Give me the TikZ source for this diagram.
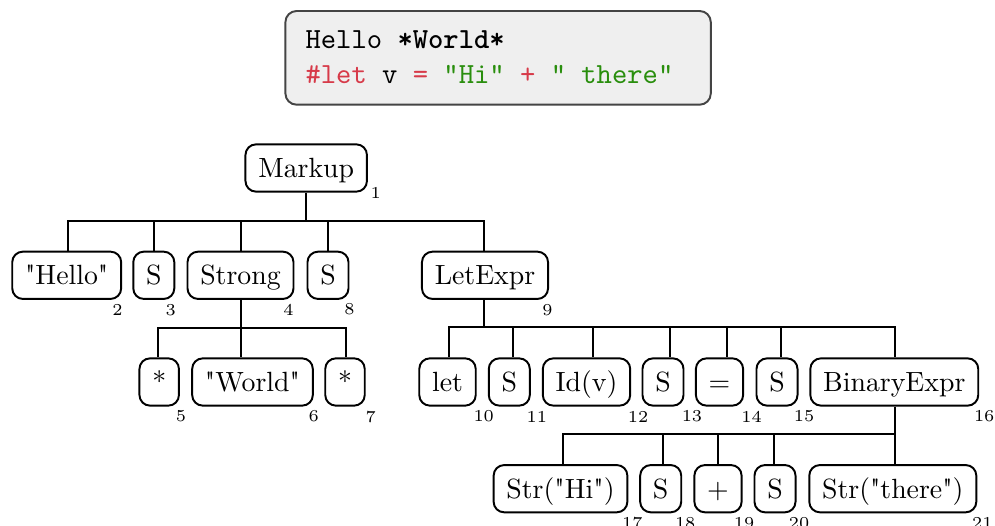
\documentclass[tikz,border=0pt]{standalone}
\usepackage{fontspec}
\usetikzlibrary{calc}
% plain Latin Modern without TeX ligature mapping, so that " stays straight
\newfontfamily\plainroman{Latin Modern Roman}
\definecolor{kwred}{HTML}{D73A49}
\definecolor{strgreen}{HTML}{298E0D}
\definecolor{codefill}{HTML}{EFEFEF}
\definecolor{codeedge}{HTML}{444444}
\begin{document}
\begin{tikzpicture}[x=0.3597pt, y=-0.3597pt,
  box/.style={draw, line width=0.7pt, rounded corners=3.8pt, inner xsep=4.6pt,
    inner ysep=0pt, minimum height=17pt, text height=6.83pt, text depth=0pt,
    font=\plainroman},
  num/.style={inner sep=0pt, font=\fontsize{6}{7}\selectfont},
  edge/.style={line width=0.72pt},
  codebox/.style={draw=codeedge, fill=codefill, line width=0.7pt, rounded corners=4pt,
    minimum width=153pt, minimum height=33.7pt, inner sep=0pt},
  codeline/.style={anchor=base west, inner sep=0pt,
    font=\ttfamily\fontsize{10.5}{12}\selectfont}]

\useasboundingbox (0,0) rectangle (995,526);

% source snippet
\node[codebox] (code) at (498.1,57.85) {};
\node[codeline] (src1) at (305,49) {Hello \textbf{*World*}};
\node[codeline] (src2) at (305,84) {\textcolor{kwred}{\#let} v \textcolor{kwred}{=} \textcolor{strgreen}{"Hi"} \textcolor{kwred}{+} \textcolor{strgreen}{" there"}};

% syntax tree nodes
\node[box] (markup) at (306.2,168) {Markup};

\node[box] (hello)   at (66.7,275.3)  {"Hello"};
\node[box] (s3)      at (153.8,275.3) {S};
\node[box] (strong)  at (240.5,275.3) {Strong};
\node[box] (s8)      at (328,275.3)   {S};
\node[box] (letexpr) at (485,275.3)   {LetExpr};

\node[box] (star5)   at (159.2,382) {*};
\node[box] (world)   at (252.5,382) {"World"};
\node[box] (star7)   at (345,382)   {*};
\node[box] (let)     at (447.5,382) {let};
\node[box] (s11)     at (509.3,382) {S};
\node[box] (idv)     at (586.5,382) {Id(v)};
\node[box] (s13)     at (663,382)   {S};
\node[box] (eq)      at (719.5,382) {=};
\node[box] (s15)     at (777,382)   {S};
\node[box] (binexpr) at (894.3,382) {BinaryExpr};

\node[box] (strhi)    at (560.5,488.7) {Str("Hi")};
\node[box] (s18)      at (660.7,488.7) {S};
\node[box] (plus)     at (718,488.7)   {+};
\node[box] (s20)      at (775,488.7)   {S};
\node[box] (strthere) at (892.8,488.7) {Str("there")};

% node numbers
\node[num] (n1)  at ($(markup.south east)+(7.7,0)$)   {1};
\node[num] (n2)  at ($(hello.south east)+(-4.7,10)$)  {2};
\node[num] (n3)  at ($(s3.south east)+(-4.5,10)$)     {3};
\node[num] (n4)  at ($(strong.south east)+(-6,9.5)$)  {4};
\node[num] (n8)  at ($(s8.south east)+(0,9.5)$)       {8};
\node[num] (n9)  at ($(letexpr.south east)+(-1.5,10)$) {9};
\node[num] (n5)  at ($(star5.south east)+(1,10)$)     {5};
\node[num] (n6)  at ($(world.south east)+(0,10)$)     {6};
\node[num] (n7)  at ($(star7.south east)+(5,10)$)     {7};
\node[num] (n10) at ($(let.south east)+(7,10)$)       {10};
\node[num] (n11) at ($(s11.south east)+(6,10)$)       {11};
\node[num] (n12) at ($(idv.south east)+(7,10)$)       {12};
\node[num] (n13) at ($(s13.south east)+(7.5,10)$)     {13};
\node[num] (n14) at ($(eq.south east)+(7.5,10)$)      {14};
\node[num] (n15) at ($(s15.south east)+(5.5,10)$)     {15};
\node[num] (n16) at ($(binexpr.south east)+(5,10)$)   {16};
\node[num] (n17) at ($(strhi.south east)+(4,10)$)     {17};
\node[num] (n18) at ($(s18.south east)+(3,10)$)       {18};
\node[num] (n19) at ($(plus.south east)+(1.5,10)$)    {19};
\node[num] (n20) at ($(s20.south east)+(2.5,10)$)     {20};
\node[num] (n21) at ($(strthere.south east)+(5,10)$)  {21};

% bus junctions below each parent
\coordinate (jm) at ($(markup.south)+(-0.2,28.37)$);
\coordinate (js) at ($(strong.south)+(0.5,28.07)$);
\coordinate (jl) at ($(letexpr.south)+(-1,27.07)$);
\coordinate (jb) at ($(binexpr.south)+(0.7,27.37)$);

% connectors
\draw[edge] ($(markup.south)+(-0.2,0)$) -- (jm);
\draw[edge] (jm) -| ($(hello.north)+(1.3,0)$);
\draw[edge] (jm) -| ($(s3.north)+(0.2,0)$);
\draw[edge] (jm) -| ($(strong.north)+(0.5,0)$);
\draw[edge] (jm) -| (s8.north);
\draw[edge] (jm) -| ($(letexpr.north)+(-1,0)$);

\draw[edge] ($(strong.south)+(0.5,0)$) -- (js);
\draw[edge] (js) -| ($(star5.north)+(-1.2,0)$);
\draw[edge] (js) -| ($(world.north)+(-11.5,0)$);
\draw[edge] (js) -| ($(star7.north)+(1,0)$);

\draw[edge] ($(letexpr.south)+(-1,0)$) -- (jl);
\draw[edge] (jl) -| ($(let.north)+(1.5,0)$);
\draw[edge] (jl) -| ($(s11.north)+(3.7,0)$);
\draw[edge] (jl) -| ($(idv.north)+(6.5,0)$);
\draw[edge] (jl) -| ($(s13.north)+(7,0)$);
\draw[edge] (jl) -| ($(eq.north)+(7.5,0)$);
\draw[edge] (jl) -| ($(s15.north)+(4,0)$);
\draw[edge] (jl) -| ($(binexpr.north)+(0.7,0)$);

\draw[edge] ($(binexpr.south)+(0.7,0)$) -- (jb);
\draw[edge] (jb) -| ($(strhi.north)+(2.5,0)$);
\draw[edge] (jb) -| ($(s18.north)+(2.3,0)$);
\draw[edge] (jb) -| (plus.north);
\draw[edge] (jb) -| ($(s20.north)+(-1,0)$);
\draw[edge] (jb) -| ($(strthere.north)+(2.2,0)$);
\end{tikzpicture}
\end{document}
